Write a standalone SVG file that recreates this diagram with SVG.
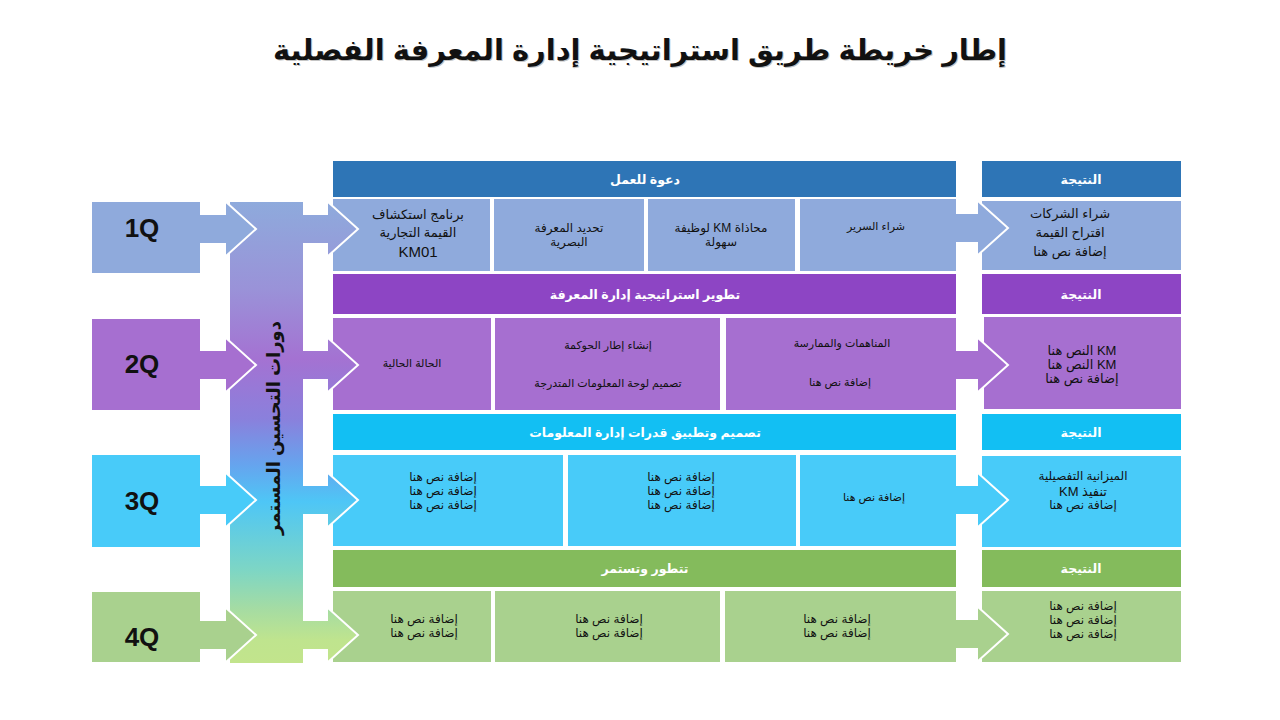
<svg xmlns="http://www.w3.org/2000/svg" width="1280" height="720" viewBox="0 0 1280 720">
<style>
.t{font-family:"Liberation Sans","DejaVu Sans",sans-serif;direction:rtl;text-anchor:middle}
.title{font-size:29px;font-weight:bold;fill:#111}
.shadow{fill:#c4c4c4}
.hdr{font-size:12.5px;font-weight:bold;fill:#fff}
.c{font-size:12px;fill:#111}
.c13{font-size:13px;fill:#111}
.q{font-family:"Liberation Sans",sans-serif;font-size:26px;font-weight:bold;fill:#111;text-anchor:middle}
.vt{font-size:18px;font-weight:bold;fill:#111}
.edge{fill:none;stroke:#fff;stroke-width:2;stroke-linejoin:miter}
.b1{fill:#2e75b6}.l1{fill:#8faadc}
.b2{fill:#8d45c4}.l2{fill:#a66fd0}
.b3{fill:#12bff3}.l3{fill:#48cbf9}
.b4{fill:#84bb5c}.l4{fill:#a9d18e}
</style>
<defs>
<linearGradient id="bar" gradientUnits="userSpaceOnUse" x1="0" y1="202" x2="0" y2="663">
<stop offset="0" stop-color="#8eaadc"/>
<stop offset="0.19" stop-color="#9a92d8"/>
<stop offset="0.34" stop-color="#a472d2"/>
<stop offset="0.47" stop-color="#8a80dc"/>
<stop offset="0.57" stop-color="#66a4ee"/>
<stop offset="0.65" stop-color="#4ec6f6"/>
<stop offset="0.80" stop-color="#7ed6c4"/>
<stop offset="0.885" stop-color="#a6dca2"/>
<stop offset="0.95" stop-color="#bfe48e"/>
<stop offset="1" stop-color="#c2e48c"/>
</linearGradient>
</defs>
<rect width="1280" height="720" fill="#fff"/>

<g id="title">
<text class="t title shadow" x="641" y="61">إطار خريطة طريق استراتيجية إدارة المعرفة الفصلية</text>
<text class="t title" x="640" y="60">إطار خريطة طريق استراتيجية إدارة المعرفة الفصلية</text>
</g>

<g id="improvement-bar">
<rect x="230" y="202" width="73" height="461" fill="url(#bar)"/>
<text class="t vt" transform="translate(280,428) rotate(-90)">دورات التحسين المستمر</text>
</g>

<g id="connectors">
<polygon class="l1" points="195,215 226,215 226,202 256,229 226,256 226,243 195,243"/>
<polyline class="edge" points="226,202 256,229 226,256"/>
<polygon class="l2" points="195,351 226,351 226,338 256,365 226,392 226,379 195,379"/>
<polyline class="edge" points="226,338 256,365 226,392"/>
<polygon class="l3" points="195,486 226,486 226,473 256,500 226,527 226,514 195,514"/>
<polyline class="edge" points="226,473 256,500 226,527"/>
<polygon class="l4" points="195,621 226,621 226,608 256,635 226,662 226,649 195,649"/>
<polyline class="edge" points="226,608 256,635 226,662"/>
</g>

<g id="q1"><rect class="l1" x="92" y="202" width="108" height="71"/><text class="q" x="142" y="237">1Q</text></g>
<g id="q2"><rect class="l2" x="92" y="319" width="108" height="91"/><text class="q" x="142" y="373">2Q</text></g>
<g id="q3"><rect class="l3" x="92" y="455" width="108" height="92"/><text class="q" x="142" y="510">3Q</text></g>
<g id="q4"><rect class="l4" x="92" y="592" width="108" height="70"/><text class="q" x="142" y="646">4Q</text></g>

<g id="row1-header"><rect class="b1" x="333" y="161" width="623" height="36"/><text class="t hdr" x="645" y="184">دعوة للعمل</text></g>
<g id="row1-cell1"><rect class="l1" x="333" y="199" width="157" height="72"/>
<text class="t c13" x="418" y="219">برنامج استكشاف</text>
<text class="t c13" x="418" y="237">القيمة التجارية</text>
<text class="t" x="418" y="257" style="font-size:15px;fill:#111">KM01</text></g>
<g id="row1-cell2"><rect class="l1" x="494" y="199" width="150" height="72"/>
<text class="t c" x="569" y="232">تحديد المعرفة</text>
<text class="t c" x="569" y="246">البصرية</text></g>
<g id="row1-cell3"><rect class="l1" x="648" y="199" width="147" height="72"/>
<text class="t c" x="721" y="232">محاذاة KM لوظيفة</text>
<text class="t c" x="721" y="246">سهولة</text></g>
<g id="row1-cell4"><rect class="l1" x="800" y="199" width="156" height="72"/>
<text class="t c" x="876" y="230" style="font-size:11px">شراء السرير</text></g>
<g id="row1-result-header"><rect class="b1" x="982" y="161" width="199" height="36"/><text class="t hdr" x="1081" y="184">النتيجة</text></g>
<g id="row1-result"><rect class="l1" x="982" y="201" width="199" height="69"/>
<text class="t c13" x="1070" y="218">شراء الشركات</text>
<text class="t c13" x="1070" y="237">اقتراح القيمة</text>
<text class="t c13" x="1070" y="256">إضافة نص هنا</text></g>

<g id="row2-header"><rect class="b2" x="333" y="274" width="623" height="40"/><text class="t hdr" x="645" y="299">تطوير استراتيجية إدارة المعرفة</text></g>
<g id="row2-cell1"><rect class="l2" x="333" y="318" width="158" height="92"/>
<text class="t c" x="412" y="367" style="font-size:11px">الحالة الحالية</text></g>
<g id="row2-cell2"><rect class="l2" x="495" y="318" width="225" height="92"/>
<text class="t c" x="608" y="349" style="font-size:11px">إنشاء إطار الحوكمة</text>
<text class="t c" x="608" y="387" style="font-size:11px">تصميم لوحة المعلومات المتدرجة</text></g>
<g id="row2-cell3"><rect class="l2" x="726" y="318" width="230" height="92"/>
<text class="t c" x="842" y="347" style="font-size:11px">المناهمات والممارسة</text>
<text class="t c" x="840" y="386" style="font-size:11px">إضافة نص هنا</text></g>
<g id="row2-result-header"><rect class="b2" x="982" y="274" width="199" height="40"/><text class="t hdr" x="1081" y="299">النتيجة</text></g>
<g id="row2-result"><rect class="l2" x="984" y="317" width="197" height="92"/>
<text class="t c13" x="1082" y="355">KM النص هنا</text>
<text class="t c13" x="1082" y="369">KM النص هنا</text>
<text class="t c13" x="1082" y="383">إضافة نص هنا</text></g>

<g id="row3-header"><rect class="b3" x="333" y="414" width="623" height="36"/><text class="t hdr" x="645" y="437">تصميم وتطبيق قدرات إدارة المعلومات</text></g>
<g id="row3-cell1"><rect class="l3" x="333" y="455" width="230" height="91"/>
<text class="t c" x="443" y="481">إضافة نص هنا</text>
<text class="t c" x="443" y="495">إضافة نص هنا</text>
<text class="t c" x="443" y="509">إضافة نص هنا</text></g>
<g id="row3-cell2"><rect class="l3" x="568" y="455" width="228" height="91"/>
<text class="t c" x="681" y="481">إضافة نص هنا</text>
<text class="t c" x="681" y="495">إضافة نص هنا</text>
<text class="t c" x="681" y="509">إضافة نص هنا</text></g>
<g id="row3-cell3"><rect class="l3" x="800" y="455" width="156" height="91"/>
<text class="t c" x="874" y="501" style="font-size:11px">إضافة نص هنا</text></g>
<g id="row3-result-header"><rect class="b3" x="982" y="414" width="199" height="36"/><text class="t hdr" x="1081" y="437">النتيجة</text></g>
<g id="row3-result"><rect class="l3" x="982" y="456" width="199" height="91"/>
<text class="t c" x="1083" y="480">الميزانية التفصيلية</text>
<text class="t c13" x="1083" y="496">تنفيذ KM</text>
<text class="t c" x="1083" y="509">إضافة نص هنا</text></g>

<g id="row4-header"><rect class="b4" x="333" y="550" width="623" height="37"/><text class="t hdr" x="645" y="573">تتطور وتستمر</text></g>
<g id="row4-cell1"><rect class="l4" x="333" y="591" width="158" height="71"/>
<text class="t c" x="424" y="623">إضافة نص هنا</text>
<text class="t c" x="424" y="637">إضافة نص هنا</text></g>
<g id="row4-cell2"><rect class="l4" x="495" y="591" width="225" height="71"/>
<text class="t c" x="609" y="623">إضافة نص هنا</text>
<text class="t c" x="609" y="637">إضافة نص هنا</text></g>
<g id="row4-cell3"><rect class="l4" x="725" y="591" width="231" height="71"/>
<text class="t c" x="837" y="623">إضافة نص هنا</text>
<text class="t c" x="837" y="637">إضافة نص هنا</text></g>
<g id="row4-result-header"><rect class="b4" x="982" y="550" width="199" height="37"/><text class="t hdr" x="1081" y="573">النتيجة</text></g>
<g id="row4-result"><rect class="l4" x="982" y="591" width="199" height="71"/>
<text class="t c" x="1083" y="610">إضافة نص هنا</text>
<text class="t c" x="1083" y="624">إضافة نص هنا</text>
<text class="t c" x="1083" y="638">إضافة نص هنا</text></g>

<g id="connectors-2">
<polygon fill="url(#bar)" points="295,215 328,215 328,202 358,229 328,256 328,243 295,243"/>
<polyline class="edge" points="328,202 358,229 328,256"/>
<polygon fill="url(#bar)" points="295,351 328,351 328,338 358,365 328,392 328,379 295,379"/>
<polyline class="edge" points="328,338 358,365 328,392"/>
<polygon fill="url(#bar)" points="295,486 328,486 328,473 358,500 328,527 328,514 295,514"/>
<polyline class="edge" points="328,473 358,500 328,527"/>
<polygon fill="url(#bar)" points="295,621 328,621 328,608 358,635 328,662 328,649 295,649"/>
<polyline class="edge" points="328,608 358,635 328,662"/>
<polygon class="l1" points="950,214 978,214 978,201 1008,228 978,255 978,242 950,242"/>
<polyline class="edge" points="978,201 1008,228 978,255"/>
<polygon class="l2" points="950,351 978,351 978,338 1008,365 978,392 978,379 950,379"/>
<polyline class="edge" points="978,338 1008,365 978,392"/>
<polygon class="l3" points="950,486 978,486 978,473 1008,500 978,527 978,514 950,514"/>
<polyline class="edge" points="978,473 1008,500 978,527"/>
<polygon class="l4" points="950,620 978,620 978,607 1008,634 978,661 978,648 950,648"/>
<polyline class="edge" points="978,607 1008,634 978,661"/>
</g>
</svg>
